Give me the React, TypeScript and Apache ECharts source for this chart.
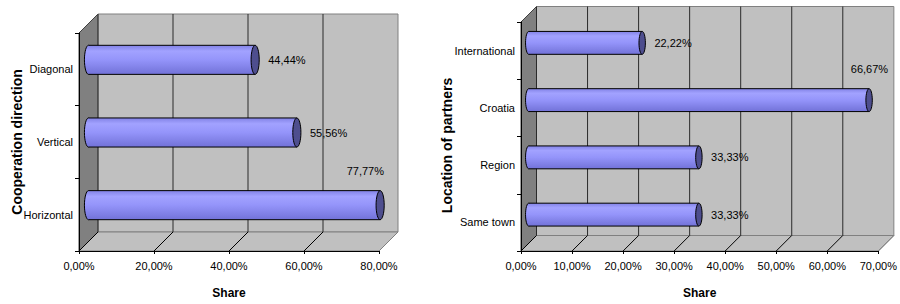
import React, { useEffect, useRef } from 'react';
import * as echarts from 'echarts';

const directionCategories = ['Horizontal', 'Vertical', 'Diagonal'];
const directionValues = [77.77, 55.56, 44.44];
const directionMax = 80;
const directionInterval = 20;

const locationCategories = ['Same town', 'Region', 'Croatia', 'International'];
const locationValues = [33.33, 33.33, 66.67, 22.22];
const locationMax = 70;
const locationInterval = 10;

const xTitle = 'Share';
const directionTitle = 'Cooperation direction';
const locationTitle = 'Location of partners';

const FONT = '"Liberation Sans", Arial, sans-serif';
const BOLD_FONT = '"Liberation Sans", Arial, sans-serif';
const FS = 11;

const fmt = (v: number) => v.toFixed(2).replace('.', ',') + '%';

function ticksOf(max: number, interval: number): number[] {
  const out: number[] = [];
  for (let v = 0; v <= max + 1e-9; v += interval) out.push(Math.round(v * 100) / 100);
  return out;
}

function wallsRenderer(depth: number, ticks: number[]) {
  return (params: any, api: any) => {
    const cs = params.coordSys;
    const x0 = cs.x, y0 = cs.y, w = cs.width, h = cs.height;
    const yb = y0 + h;
    const D = depth;
    const children: any[] = [
      {
        type: 'polygon',
        shape: { points: [[x0, y0], [x0 + D, y0 - D], [x0 + D, yb - D], [x0, yb]] },
        style: { fill: '#808080', stroke: '#404040', lineWidth: 1 },
      },
      {
        type: 'rect',
        shape: { x: x0 + D, y: y0 - D, width: w, height: h },
        style: { fill: '#c0c0c0', stroke: '#808080', lineWidth: 1 },
      },
      {
        type: 'polygon',
        shape: { points: [[x0, yb], [x0 + w, yb], [x0 + w + D, yb - D], [x0 + D, yb - D]] },
        style: { fill: '#c0c0c0', stroke: '#808080', lineWidth: 1 },
      },
    ];
    ticks.forEach((t, i) => {
      const p = api.coord([t, 0]);
      const x = p[0];
      const last = i === ticks.length - 1;
      if (!last) {
        children.push({
          type: 'line',
          shape: { x1: x + D, y1: y0 - D, x2: x + D, y2: yb - D },
          style: { stroke: '#2a2a2a', lineWidth: 1 },
        });
      }
      children.push({
        type: 'line',
        shape: { x1: x, y1: yb, x2: x + D, y2: yb - D },
        style: { stroke: last ? '#808080' : '#000', lineWidth: 1 },
      });
    });
    return { type: 'group', children };
  };
}

function barsRenderer(depth: number, labelPad: number) {
  return (params: any, api: any) => {
    const cs = params.coordSys;
    const v = api.value(0);
    const c = api.value(1);
    const p0 = api.coord([0, c]);
    const p1 = api.coord([v, c]);
    const bh = api.size([0, 1])[1] * 0.4;
    const D = depth;
    const cy = p0[1] - D / 2;
    const xs = p0[0] + D / 2;
    const xe = p1[0] + D / 2;
    const rx = bh * 0.14;
    const grad = () =>
      new echarts.graphic.LinearGradient(0, 0, 0, 1, [
        { offset: 0, color: '#8282e6' },
        { offset: 0.2, color: '#a2a2ff' },
        { offset: 0.5, color: '#9494fa' },
        { offset: 1, color: '#7272d8' },
      ]);
    const labelText = fmt(v);
    const backRight = cs.x + cs.width + D;
    let label: any;
    if (xe + rx + 10 + 40 > backRight) {
      label = {
        type: 'text',
        x: Math.min(xe + 19, backRight + labelPad),
        y: cy - bh / 2 - 20,
        style: { text: labelText, fill: '#000', fontSize: FS, fontFamily: FONT, align: 'right', verticalAlign: 'middle' },
      };
    } else {
      label = {
        type: 'text',
        x: xe + rx + 9,
        y: cy,
        style: { text: labelText, fill: '#000', fontSize: FS, fontFamily: FONT, align: 'left', verticalAlign: 'middle' },
      };
    }
    return {
      type: 'group',
      children: [
        {
          type: 'ellipse',
          shape: { cx: xs, cy, rx, ry: bh / 2 },
          style: { fill: grad(), stroke: '#000', lineWidth: 1 },
        },
        {
          type: 'rect',
          shape: { x: xs, y: cy - bh / 2, width: Math.max(0, xe - xs), height: bh },
          style: { fill: grad() },
        },
        {
          type: 'line',
          shape: { x1: xs, y1: cy - bh / 2, x2: xe, y2: cy - bh / 2 },
          style: { stroke: '#000', lineWidth: 1 },
        },
        {
          type: 'line',
          shape: { x1: xs, y1: cy + bh / 2, x2: xe, y2: cy + bh / 2 },
          style: { stroke: '#000', lineWidth: 1 },
        },
        {
          type: 'ellipse',
          shape: { cx: xe, cy, rx, ry: bh / 2 },
          style: { fill: '#4e4e8e', stroke: '#000', lineWidth: 1 },
        },
        label,
      ],
    };
  };
}

function makeXAxis(gridIndex: number, max: number, interval: number) {
  return {
    gridIndex,
    type: 'value',
    min: 0,
    max,
    interval,
    z: 10,
    axisLine: { show: true, lineStyle: { color: '#000', width: 1 } },
    axisTick: { show: true, length: 3, lineStyle: { color: '#000' } },
    axisLabel: { formatter: (v: number) => fmt(v), fontSize: FS, fontFamily: FONT, color: '#000', margin: 9 },
    splitLine: { show: false },
    name: xTitle,
    nameLocation: 'middle',
    nameGap: 36,
    nameMoveOverlap: false,
    nameTextStyle: { fontWeight: 'bold', fontSize: 12, fontFamily: BOLD_FONT, color: '#000' },
  };
}

function makeYAxis(gridIndex: number, data: string[], title: string, gap: number, shift: number) {
  return {
    gridIndex,
    type: 'category',
    data,
    z: 10,
    axisLine: { show: true, lineStyle: { color: '#000', width: 1 } },
    axisTick: { show: true, length: 4, lineStyle: { color: '#000' } },
    axisLabel: { fontSize: FS, fontFamily: FONT, color: '#000', margin: 6 },
    splitLine: { show: false },
    name: title,
    nameLocation: 'middle',
    nameGap: gap,
    nameRotate: 90,
    nameMoveOverlap: false,
    nameTextStyle: {
      fontWeight: 'bold',
      fontSize: 14,
      fontFamily: BOLD_FONT,
      color: '#000',
      padding: [0, shift, 0, 0],
    },
  };
}

export default function App() {
  const ref = useRef<HTMLDivElement>(null);
  useEffect(() => {
    if (!ref.current) return;
    const chart = echarts.init(ref.current, undefined, { renderer: 'svg' });
    const dLeft = 19;
    const dRight = 15.5;
    const dirTicks = ticksOf(directionMax, directionInterval);
    const locTicks = ticksOf(locationMax, locationInterval);
    chart.setOption({
      animation: false,
      backgroundColor: '#fff',
      grid: [
        { left: 79, top: 33, width: 300, height: 222 },
        { left: 521, top: 22, width: 361, height: 233 },
      ],
      xAxis: [
        makeXAxis(0, directionMax, directionInterval),
        makeXAxis(1, locationMax, locationInterval),
      ],
      yAxis: [
        makeYAxis(0, directionCategories, directionTitle, 55, 0),
        makeYAxis(1, locationCategories, locationTitle, 67, 18),
      ],
      series: [
        {
          type: 'custom',
          xAxisIndex: 0,
          yAxisIndex: 0,
          z: 1,
          silent: true,
          clip: false,
          renderItem: wallsRenderer(dLeft, dirTicks),
          data: [[0, 0]],
        },
        {
          type: 'custom',
          xAxisIndex: 1,
          yAxisIndex: 1,
          z: 1,
          silent: true,
          clip: false,
          renderItem: wallsRenderer(dRight, locTicks),
          data: [[0, 0]],
        },
        {
          type: 'custom',
          xAxisIndex: 0,
          yAxisIndex: 0,
          z: 3,
          clip: false,
          renderItem: barsRenderer(dLeft, -14),
          encode: { x: 0, y: 1 },
          data: directionValues.map((v, i) => [v, i]),
        },
        {
          type: 'custom',
          xAxisIndex: 1,
          yAxisIndex: 1,
          z: 3,
          clip: false,
          renderItem: barsRenderer(dRight, 0),
          encode: { x: 0, y: 1 },
          data: locationValues.map((v, i) => [v, i]),
        },
      ],
    });
    return () => chart.dispose();
  }, []);
  return (
    <div
      ref={ref}
      style={{ position: 'absolute', left: 0, top: 0, width: 900, height: 304 }}
    />
  );
}
